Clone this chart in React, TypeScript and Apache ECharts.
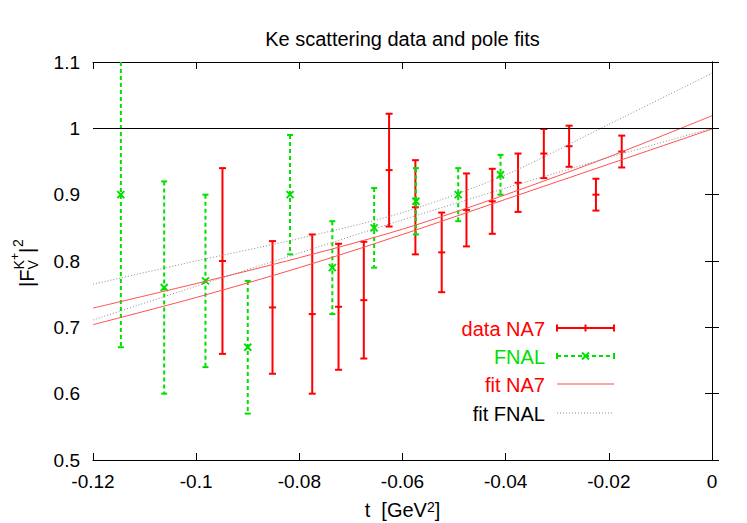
import React, { useEffect, useRef } from "react";
import * as echarts from "echarts";

// NA7 data: t, |F|^2, error
const tNA7 = [-0.0949, -0.0852, -0.0775, -0.0724, -0.0675, -0.0626, -0.0575, -0.0524, -0.0476, -0.0426, -0.0376, -0.0326, -0.0277, -0.0225, -0.0175];
const fNA7 = [0.80, 0.73, 0.72, 0.731, 0.741, 0.937, 0.881, 0.813, 0.877, 0.890, 0.918, 0.962, 0.973, 0.900, 0.965];
const eNA7 = [0.14, 0.10, 0.12, 0.095, 0.088, 0.085, 0.071, 0.060, 0.055, 0.049, 0.044, 0.037, 0.031, 0.024, 0.024];

// FNAL data
const tFNAL = [-0.1146, -0.1062, -0.0982, -0.0900, -0.0818, -0.0736, -0.0655, -0.0574, -0.0492, -0.0410];
const fFNAL = [0.90, 0.76, 0.77, 0.67, 0.90, 0.79, 0.85, 0.89, 0.90, 0.93];
const eFNAL = [0.23, 0.16, 0.13, 0.10, 0.09, 0.07, 0.06, 0.05, 0.04, 0.03];

// Fit curves
const tFit = [-0.12, -0.10, -0.08, -0.06, -0.04, -0.02, 0];
const fitNA7a = [0.729, 0.766, 0.805, 0.848, 0.900, 0.957, 1.019];
const fitNA7b = [0.704, 0.745, 0.790, 0.840, 0.893, 0.946, 0.999];
const fitFNALa = [0.765, 0.800, 0.834, 0.873, 0.930, 1.006, 1.083];
const fitFNALb = [0.711, 0.762, 0.812, 0.862, 0.910, 0.956, 1.0];

const xTicks = { min: -0.12, max: 0, interval: 0.02 };
const yTicks = { min: 0.5, max: 1.1, interval: 0.1 };

const FONT = "Liberation Sans, Arial, Helvetica, sans-serif";
const RED = "#ff0000";
const GREEN = "#00e000";
const FITRED = "#ff5050";
const GRAY = "#8a8a8a";

function errorBarItem(color: string, dashed: boolean, cross: boolean) {
  return (params: any, api: any) => {
    const x = api.value(0);
    const y = api.value(1);
    const e = api.value(2);
    const pc = api.coord([x, y]);
    const pt = api.coord([x, y + e]);
    const pb = api.coord([x, y - e]);
    const cs = params.coordSys;
    const top = cs.y;
    const bottom = cs.y + cs.height;
    const yt = Math.max(pt[1], top);
    const yb = Math.min(pb[1], bottom);
    const style: any = { stroke: color, lineWidth: 2 };
    if (dashed) style.lineDash = [4, 3];
    const solid = { stroke: color, lineWidth: 2 };
    const cw = dashed ? 3 : 3.5;
    const children: any[] = [
      { type: "line", shape: { x1: pc[0], y1: yt, x2: pc[0], y2: yb }, style },
    ];
    if (pt[1] >= top) children.push({ type: "line", shape: { x1: pc[0] - cw, y1: pt[1], x2: pc[0] + cw, y2: pt[1] }, style: solid });
    if (pb[1] <= bottom) children.push({ type: "line", shape: { x1: pc[0] - cw, y1: pb[1], x2: pc[0] + cw, y2: pb[1] }, style: solid });
    if (cross) {
      const s = 3.5;
      children.push({ type: "line", shape: { x1: pc[0] - s, y1: pc[1] - s, x2: pc[0] + s, y2: pc[1] + s }, style: solid });
      children.push({ type: "line", shape: { x1: pc[0] - s, y1: pc[1] + s, x2: pc[0] + s, y2: pc[1] - s }, style: solid });
    } else {
      children.push({ type: "line", shape: { x1: pc[0] - 3.5, y1: pc[1], x2: pc[0] + 3.5, y2: pc[1] }, style: solid });
    }
    return { type: "group", children };
  };
}

function legendGraphics() {
  const xText = 545;
  const x1 = 557;
  const x2 = 614;
  const xm = (x1 + x2) / 2;
  const rows = [328, 356, 384, 413];
  const items: any[] = [];
  const labels = [
    { t: "data NA7", c: RED },
    { t: "FNAL", c: GREEN },
    { t: "fit NA7", c: RED },
    { t: "fit FNAL", c: "#000" },
  ];
  labels.forEach((l, i) => {
    items.push({
      type: "text",
      style: { text: l.t, x: xText, y: rows[i] + 1, fill: l.c, font: `20px ${FONT}`, align: "right", verticalAlign: "middle" },
    });
  });
  // data NA7 sample
  let y = rows[0];
  items.push({ type: "line", shape: { x1, y1: y, x2, y2: y }, style: { stroke: RED, lineWidth: 2 } });
  [x1, xm, x2].forEach((xx) =>
    items.push({ type: "line", shape: { x1: xx, y1: y - 3.5, x2: xx, y2: y + 3.5 }, style: { stroke: RED, lineWidth: 2 } })
  );
  // FNAL sample
  y = rows[1];
  items.push({ type: "line", shape: { x1, y1: y, x2, y2: y }, style: { stroke: GREEN, lineWidth: 2, lineDash: [4, 3] } });
  [x1, x2].forEach((xx) =>
    items.push({ type: "line", shape: { x1: xx, y1: y - 3, x2: xx, y2: y + 3 }, style: { stroke: GREEN, lineWidth: 2 } })
  );
  items.push({ type: "line", shape: { x1: xm - 3.5, y1: y - 3.5, x2: xm + 3.5, y2: y + 3.5 }, style: { stroke: GREEN, lineWidth: 2 } });
  items.push({ type: "line", shape: { x1: xm - 3.5, y1: y + 3.5, x2: xm + 3.5, y2: y - 3.5 }, style: { stroke: GREEN, lineWidth: 2 } });
  // fit NA7
  y = rows[2];
  items.push({ type: "line", shape: { x1, y1: y, x2, y2: y }, style: { stroke: FITRED, lineWidth: 1.5, opacity: 0.7 } });
  // fit FNAL
  y = rows[3];
  items.push({ type: "line", shape: { x1, y1: y, x2, y2: y }, style: { stroke: GRAY, lineWidth: 1, lineDash: [1, 2] } });
  return items;
}

function yNameGraphic() {
  const t = (text: string, x: number, y: number, size: number) => ({
    type: "text",
    style: { text, x, y, font: `${size}px ${FONT}`, fill: "#000", align: "left", verticalAlign: "middle" },
  });
  return {
    type: "group",
    x: 34,
    y: 287,
    rotation: Math.PI / 2,
    children: [
      t("|F", 0, -7.5, 20),
      t("V", 17.5, -1, 14),
      t("K", 17.5, -15.5, 14),
      t("+", 27, -19, 12),
      t("|", 34, -7.5, 20),
      t("2", 40, -16.5, 14),
    ],
  };
}

export default function App() {
  const ref = useRef<HTMLDivElement>(null);
  useEffect(() => {
    if (!ref.current) return;
    const chart = echarts.init(ref.current, undefined, { renderer: "svg" });
    const axisCommon = {
      type: "value" as const,
      axisLine: { show: true, lineStyle: { color: "#000", width: 1 } },
      axisTick: { show: true, inside: true, length: 7, lineStyle: { color: "#000" } },
      splitLine: { show: false },
    };
    const option: any = {
      animation: false,
      backgroundColor: "#fff",
      grid: { left: 93, right: 35, top: 62, bottom: 63, containLabel: false },
      xAxis: [
        {
          ...axisCommon,
          ...xTicks,
          position: "bottom",
          axisLabel: { fontSize: 19, color: "#000", fontFamily: FONT, margin: 12, showMinLabel: true, showMaxLabel: true,
            formatter: (v: number) => String(+v.toFixed(3)) },
        },
        { ...axisCommon, ...xTicks, position: "top", axisLabel: { show: false } },
      ],
      yAxis: [
        {
          ...axisCommon,
          ...yTicks,
          position: "left",
          axisLabel: { fontSize: 19, color: "#000", fontFamily: FONT, margin: 13, formatter: (v: number) => String(+v.toFixed(2)) },
        },
        { ...axisCommon, ...yTicks, position: "right", axisLabel: { show: false } },
      ],
      graphic: [
        {
          type: "text",
          style: { text: "Ke scattering data and pole fits", x: 402.5, y: 39, font: `20px ${FONT}`, fill: "#000", align: "center", verticalAlign: "middle" },
        },
        {
          type: "text",
          style: {
            text: "{a|t  [GeV}{s|2}{a|]}",
            x: 402.5,
            y: 510,
            align: "center",
            verticalAlign: "middle",
            fill: "#000",
            rich: {
              a: { fontSize: 20, fontFamily: FONT, fill: "#000" },
              s: { fontSize: 14, fontFamily: FONT, fill: "#000", verticalAlign: "top" },
            },
          },
        },
        yNameGraphic(),
        ...legendGraphics(),
      ],
      series: [
        {
          type: "line",
          data: [],
          markLine: {
            silent: true,
            symbol: "none",
            label: { show: false },
            lineStyle: { color: "#000", width: 1, type: "solid" },
            data: [{ yAxis: 1 }],
          },
        },
        {
          name: "data NA7",
          type: "custom",
          renderItem: errorBarItem(RED, false, false),
          data: tNA7.map((t, i) => [t, fNA7[i], eNA7[i]]),
          encode: { x: 0, y: 1 },
          z: 3,
        },
        {
          name: "FNAL",
          type: "custom",
          renderItem: errorBarItem(GREEN, true, true),
          data: tFNAL.map((t, i) => [t, fFNAL[i], eFNAL[i]]),
          encode: { x: 0, y: 1 },
          z: 3,
        },
        {
          name: "fit NA7 a",
          type: "line",
          smooth: 0.3,
          showSymbol: false,
          lineStyle: { color: FITRED, width: 1 },
          data: tFit.map((t, i) => [t, fitNA7a[i]]),
          z: 4,
        },
        {
          name: "fit NA7 b",
          type: "line",
          smooth: 0.3,
          showSymbol: false,
          lineStyle: { color: FITRED, width: 1 },
          data: tFit.map((t, i) => [t, fitNA7b[i]]),
          z: 4,
        },
        {
          name: "fit FNAL a",
          type: "line",
          smooth: 0.3,
          showSymbol: false,
          lineStyle: { color: GRAY, width: 1, type: [1, 2] },
          data: tFit.map((t, i) => [t, fitFNALa[i]]),
          z: 4,
        },
        {
          name: "fit FNAL b",
          type: "line",
          smooth: 0.3,
          showSymbol: false,
          lineStyle: { color: GRAY, width: 1, type: [1, 2] },
          data: tFit.map((t, i) => [t, fitFNALb[i]]),
          z: 4,
        },
      ],
    };
    chart.setOption(option);
    return () => chart.dispose();
  }, []);
  return <div ref={ref} style={{ position: "fixed", left: 0, top: 0, width: 747, height: 523 }} />;
}
